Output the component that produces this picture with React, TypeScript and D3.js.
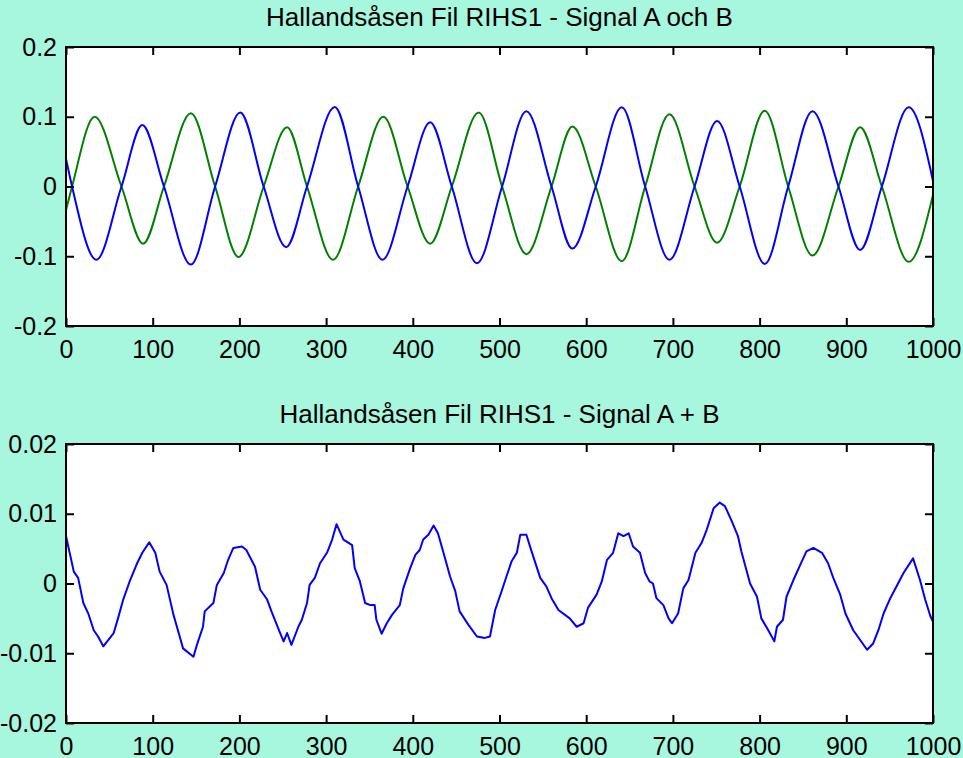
import { useEffect, useRef } from "react";
import * as d3 from "d3";

// sample index / value pairs (peaks, troughs, crossings)
const sampleA = [0, 7, 35, 64, 88, 113, 144, 172, 201, 228, 254, 278, 310, 337, 365, 394, 420, 445, 474, 503, 531, 560, 584, 611, 641, 668, 696, 725, 751, 777, 806, 833, 861, 891, 916, 941, 972, 1000];
const signalA = [0.04, 0, -0.105, 0, 0.088, 0, -0.112, 0, 0.106, 0, -0.087, 0, 0.114, 0, -0.105, 0, 0.092, 0, -0.11, 0, 0.108, 0, -0.089, 0, 0.1135, 0, -0.105, 0, 0.094, 0, -0.111, 0, 0.108, 0, -0.091, 0, 0.1135, 0.008];

const sampleB = [0, 7, 33, 64, 89, 113, 144, 172, 199, 228, 255, 278, 308, 337, 366, 394, 420, 445, 476, 503, 531, 560, 584, 611, 641, 668, 696, 725, 751, 777, 806, 833, 861, 891, 916, 941, 972, 1000];
const signalB = [-0.034, 0, 0.1, 0, -0.082, 0, 0.105, 0, -0.101, 0, 0.085, 0, -0.105, 0, 0.1, 0, -0.082, 0, 0.106, 0, -0.097, 0, 0.086, 0, -0.107, 0, 0.1035, 0, -0.0805, 0, 0.1087, 0, -0.099, 0, 0.085, 0, -0.108, -0.012];

// lower plot: A + B
const sampleSum = [0, 9, 14, 20, 26, 32, 37, 43, 55, 60, 66, 74, 82, 88, 96, 103, 108, 116, 124, 130, 135, 147, 151, 158, 160, 170, 174, 182, 187, 193, 203, 208, 218, 224, 232, 237, 247, 251, 255, 260, 268, 272, 278, 281, 287, 293, 301, 307, 312, 320, 330, 333, 339, 345, 351, 356, 358, 364, 370, 376, 385, 389, 397, 403, 408, 412, 418, 424, 429, 435, 443, 449, 454, 464, 474, 483, 489, 495, 503, 508, 514, 520, 524, 531, 537, 547, 554, 560, 568, 581, 589, 597, 602, 612, 618, 624, 631, 637, 643, 649, 654, 662, 668, 673, 677, 681, 689, 695, 699, 706, 712, 718, 726, 733, 739, 747, 754, 760, 768, 775, 779, 789, 797, 802, 810, 817, 820, 827, 831, 839, 847, 854, 862, 872, 879, 885, 893, 899, 908, 916, 924, 931, 937, 943, 950, 958, 966, 977, 985, 991, 997, 1000];
const signalSum = [0.0068, 0.0017, 0.0008, -0.0028, -0.0044, -0.0067, -0.0076, -0.009, -0.0071, -0.005, -0.0023, 0.0005, 0.0029, 0.0044, 0.0059, 0.0044, 0.0017, -0.0002, -0.0045, -0.0071, -0.0093, -0.0105, -0.0088, -0.0062, -0.004, -0.0028, -0.0002, 0.0015, 0.0034, 0.0051, 0.0053, 0.0048, 0.0024, -0.0009, -0.0023, -0.004, -0.0071, -0.0083, -0.0071, -0.0088, -0.0062, -0.0052, -0.0028, -0.0002, 0.0008, 0.0029, 0.0044, 0.0063, 0.0085, 0.0063, 0.0055, 0.0022, 0.0003, -0.0028, -0.0031, -0.0031, -0.0052, -0.0072, -0.0057, -0.0045, -0.0031, -0.0007, 0.0022, 0.0041, 0.0048, 0.0063, 0.007, 0.0083, 0.0072, 0.0046, 0.001, -0.0011, -0.004, -0.0059, -0.0076, -0.0078, -0.0076, -0.0038, -0.0009, 0.001, 0.0032, 0.0044, 0.007, 0.007, 0.0046, 0.0008, -0.0004, -0.0021, -0.0038, -0.005, -0.0062, -0.0057, -0.0035, -0.0016, 0.0003, 0.0034, 0.0044, 0.0072, 0.0068, 0.0072, 0.0053, 0.0044, 0.0015, 0.0003, 0, -0.0021, -0.0031, -0.005, -0.0057, -0.0043, -0.0007, 0.0005, 0.0044, 0.0058, 0.0077, 0.0108, 0.0116, 0.0111, 0.0089, 0.0068, 0.0046, 0, -0.0019, -0.005, -0.0067, -0.0083, -0.0062, -0.0052, -0.0019, 0.0005, 0.0027, 0.0046, 0.0051, 0.0044, 0.0029, 0.0008, -0.0016, -0.0043, -0.0067, -0.0081, -0.0095, -0.0086, -0.0067, -0.0043, -0.0023, -0.0004, 0.0015, 0.0036, 0.0005, -0.0023, -0.0047, -0.0055];

const xTicks = [0, 100, 200, 300, 400, 500, 600, 700, 800, 900, 1000];
const yTicksTop = [-0.2, -0.1, 0, 0.1, 0.2];
const yTicksBottom = [-0.02, -0.01, 0, 0.01, 0.02];

const titleTop = "Hallandsåsen Fil RIHS1 - Signal A och B";
const titleBottom = "Hallandsåsen Fil RIHS1 - Signal A + B";

const W = 963, H = 758;
const BG = "#a7f6de";
const FONT = "'Liberation Sans', Arial, sans-serif";

export default function App() {
  const ref = useRef<SVGSVGElement | null>(null);

  useEffect(() => {
    const svg = d3.select(ref.current);
    svg.selectAll("*").remove();

    const left = 66, right = 933;

    const panel = (top: number, bottom: number, yDom: [number, number], yTicks: number[], title: string,
                   series: { xs: number[]; ys: number[]; color: string; curve: d3.CurveFactory }[], id: string) => {
      const x = d3.scaleLinear().domain([0, 1000]).range([left, right]);
      const y = d3.scaleLinear().domain(yDom).range([bottom, top]);
      const g = svg.append("g");

      g.append("rect").attr("x", left).attr("y", top).attr("width", right - left).attr("height", bottom - top).attr("fill", "#fff");

      svg.append("clipPath").attr("id", id).append("rect")
        .attr("x", left).attr("y", top).attr("width", right - left).attr("height", bottom - top);

      const lines = g.append("g").attr("clip-path", `url(#${id})`);
      series.forEach((s) => {
        const line = d3.line<number>().x((_, i) => x(s.xs[i])).y((d) => y(d)).curve(s.curve);
        lines.append("path").attr("d", line(s.ys)).attr("fill", "none").attr("stroke", s.color)
          .attr("stroke-width", 2).attr("stroke-linejoin", "round");
      });

      const fmt = (d: d3.NumberValue) => String(d);
      const style = (a: d3.Selection<SVGGElement, unknown, null, undefined>) => {
        a.select(".domain").remove();
        a.selectAll(".tick line").attr("stroke", "#000").attr("stroke-width", 2);
        a.selectAll(".tick text").attr("font-size", 25).attr("font-family", FONT).attr("fill", "#000");
      };

      g.append("g").attr("transform", `translate(0,${bottom})`)
        .call(d3.axisBottom(x).tickValues(xTicks).tickSize(-8).tickPadding(14).tickFormat(fmt)).call(style);
      g.append("g").attr("transform", `translate(0,${top})`)
        .call(d3.axisTop(x).tickValues(xTicks).tickSize(-8).tickFormat(() => "")).call(style);
      g.append("g").attr("transform", `translate(${left},0)`)
        .call(d3.axisLeft(y).tickValues(yTicks).tickSize(-8).tickPadding(9).tickFormat(fmt)).call(style);
      g.append("g").attr("transform", `translate(${right},0)`)
        .call(d3.axisRight(y).tickValues(yTicks).tickSize(-8).tickFormat(() => "")).call(style);

      g.append("rect").attr("x", left).attr("y", top).attr("width", right - left).attr("height", bottom - top)
        .attr("fill", "none").attr("stroke", "#000").attr("stroke-width", 2);

      g.append("text").attr("x", (left + right) / 2).attr("y", top - 21).attr("text-anchor", "middle")
        .attr("font-size", 26).attr("font-family", FONT).attr("fill", "#000").text(title);
    };

    panel(47, 326, [-0.2, 0.2], yTicksTop, titleTop, [
      { xs: sampleB, ys: signalB, color: "#008000", curve: d3.curveMonotoneX },
      { xs: sampleA, ys: signalA, color: "#0000ff", curve: d3.curveMonotoneX },
    ], "clipTop");

    panel(444, 723, [-0.02, 0.02], yTicksBottom, titleBottom, [
      { xs: sampleSum, ys: signalSum, color: "#0000ff", curve: d3.curveLinear },
    ], "clipBottom");
  }, []);

  return (
    <div style={{ position: "absolute", left: 0, top: 0, width: W, height: H, background: BG }}>
      <svg ref={ref} width={W} height={H} style={{ display: "block" }} />
    </div>
  );
}
